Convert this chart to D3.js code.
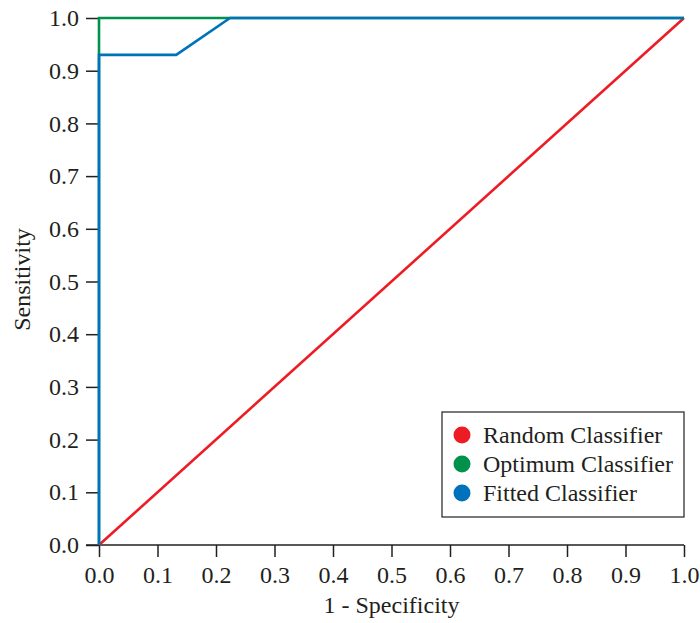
<!DOCTYPE html>
<html>
<head>
<meta charset="utf-8">
<script src="https://cdn.jsdelivr.net/npm/d3@7"></script>
<style>
  html, body { margin: 0; padding: 0; background: #fff; }
  svg text { font-family: "Liberation Serif", "Times New Roman", serif; fill: #231f20; }
</style>
</head>
<body>
<svg id="chart" width="700" height="623"></svg>
<script>
// ROC curves: points are [1 - specificity, sensitivity]
const randomROC  = [[0, 0], [1, 1]];
const optimumROC = [[0, 0], [0, 1], [1, 1]];
const fittedROC  = [[0, 0], [0, 0.93], [0.132, 0.93], [0.224, 1], [1, 1]];

const seriesNames  = ["Random Classifier", "Optimum Classifier", "Fitted Classifier"];
const seriesColors = ["#ed1c24", "#00914c", "#0072bc"];
const tickValues   = [0, 0.1, 0.2, 0.3, 0.4, 0.5, 0.6, 0.7, 0.8, 0.9, 1.0];

const svg = d3.select("#chart");
const margin = { left: 99, right: 16, top: 18, bottom: 78 };
const W = 700, H = 623;
const FS = 24;

const x = d3.scaleLinear().domain([0, 1]).range([margin.left, W - margin.right]);
const y = d3.scaleLinear().domain([0, 1]).range([H - margin.bottom, margin.top]);

// x axis
const xAxis = svg.append("g")
  .attr("transform", `translate(0,${y(0)})`)
  .call(d3.axisBottom(x).tickValues(tickValues).tickFormat(d3.format(".1f"))
        .tickSize(12).tickSizeOuter(0).tickPadding(9));
xAxis.select(".domain").remove();
xAxis.append("line")
  .attr("x1", margin.left - 13).attr("x2", x(1))
  .attr("stroke", "#231f20").attr("stroke-width", 1.5);
xAxis.selectAll(".tick line").attr("stroke", "#231f20").attr("stroke-width", 1.5);
xAxis.selectAll(".tick text").attr("font-size", FS).style("fill", "#231f20");

// y axis (ticks only)
const yAxis = svg.append("g")
  .attr("transform", `translate(${x(0)},0)`)
  .call(d3.axisLeft(y).tickValues(tickValues).tickFormat(d3.format(".1f"))
        .tickSize(13).tickSizeOuter(0).tickPadding(7));
yAxis.select(".domain").remove();
yAxis.selectAll(".tick line").attr("stroke", "#231f20").attr("stroke-width", 1.5);
yAxis.selectAll(".tick text").attr("font-size", FS).style("fill", "#231f20");

// axis titles
svg.append("text")
  .attr("x", (x(0) + x(1)) / 2).attr("y", 613)
  .attr("text-anchor", "middle").attr("font-size", FS)
  .text("1 - Specificity");
svg.append("text")
  .attr("transform", `translate(30,${(y(0) + y(1)) / 2 - 2}) rotate(-90)`)
  .attr("text-anchor", "middle").attr("font-size", FS)
  .text("Sensitivity");

// curves
const line = d3.line().x(d => x(d[0])).y(d => y(d[1]));
[randomROC, optimumROC, fittedROC].forEach((pts, i) => {
  svg.append("path")
    .datum(pts)
    .attr("d", line)
    .attr("fill", "none")
    .attr("stroke", seriesColors[i])
    .attr("stroke-width", 2.6)
    .attr("stroke-linejoin", "miter");
});

// legend
const lg = svg.append("g").attr("transform", "translate(442,412)");
lg.append("rect")
  .attr("width", 242).attr("height", 105)
  .attr("fill", "#fff").attr("stroke", "#231f20").attr("stroke-width", 1.2);
seriesNames.forEach((name, i) => {
  const row = lg.append("g").attr("transform", `translate(0,${23 + i * 29})`);
  row.append("circle").attr("cx", 20).attr("cy", 0).attr("r", 8.5).attr("fill", seriesColors[i]);
  row.append("text").attr("x", 41).attr("y", 8).attr("font-size", FS).text(name);
});
</script>
</body>
</html>
